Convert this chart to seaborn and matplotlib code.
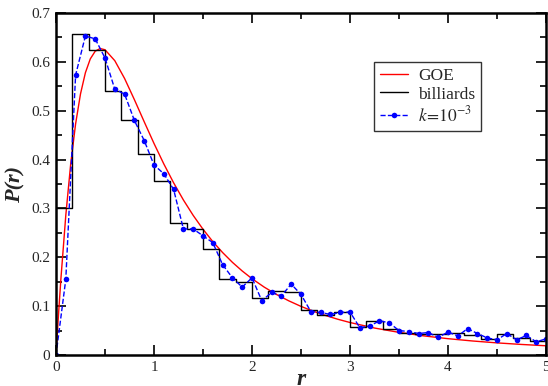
import numpy as np
import pandas as pd
import matplotlib
matplotlib.use("Agg")
import matplotlib.pyplot as plt
import seaborn as sns
from matplotlib.ticker import MultipleLocator

# GOE prediction
goe_r = [0, 0.025, 0.05, 0.1, 0.15, 0.2, 0.25, 0.3, 0.35, 0.4, 0.45, 0.5, 0.6, 0.7, 0.8,
         0.9, 1.0, 1.1, 1.2, 1.3, 1.4, 1.5, 1.6, 1.7, 1.8, 1.9, 2.0, 2.125, 2.25, 2.375,
         2.5, 2.625, 2.75, 2.875, 3.0, 3.25, 3.5, 3.75, 4.0, 4.25, 4.5, 4.75, 5.0]
goe_p = [0, 0.0812, 0.1559, 0.2860, 0.3911, 0.4731, 0.5344, 0.5778, 0.6061, 0.6218, 0.6273,
         0.6248, 0.6024, 0.5659, 0.5226, 0.4774, 0.4330, 0.3911, 0.3525, 0.3173, 0.2857,
         0.2574, 0.2321, 0.2097, 0.1897, 0.1720, 0.1562, 0.1389, 0.1239, 0.1109, 0.0995,
         0.0896, 0.0809, 0.0732, 0.0665, 0.0552, 0.0463, 0.0392, 0.0334, 0.0287, 0.0248,
         0.0216, 0.0189]

# billiards histogram, 30 bins of width 1/6 on [0, 5]
bill_p = [0.300, 0.658, 0.624, 0.541, 0.480, 0.411, 0.356, 0.271, 0.257, 0.216,
          0.156, 0.150, 0.117, 0.132, 0.128, 0.092, 0.081, 0.088, 0.057, 0.070,
          0.053, 0.046, 0.044, 0.044, 0.046, 0.040, 0.032, 0.042, 0.034, 0.028]

# k = 1e-3 data, sampled every 0.1
k_p = [0.0, 0.155, 0.573, 0.653, 0.647, 0.608, 0.544, 0.534, 0.480, 0.439,
       0.389, 0.371, 0.339, 0.258, 0.258, 0.244, 0.230, 0.185, 0.158, 0.139,
       0.158, 0.111, 0.128, 0.121, 0.145, 0.124, 0.089, 0.087, 0.083, 0.087,
       0.088, 0.056, 0.059, 0.070, 0.066, 0.050, 0.048, 0.044, 0.046, 0.036,
       0.047, 0.039, 0.054, 0.044, 0.035, 0.031, 0.044, 0.031, 0.040, 0.027,
       0.033]
k_r = np.round(np.arange(len(k_p)) * 0.1, 2)

x_ticks = [0, 1, 2, 3, 4, 5]
y_ticks = [0, 0.1, 0.2, 0.3, 0.4, 0.5, 0.6, 0.7]
y_tick_labels = ["0", "0.1", "0.2", "0.3", "0.4", "0.5", "0.6", "0.7"]

bill_edges = np.linspace(0, 5, len(bill_p) + 1)
bill_df = pd.DataFrame({"r": bill_edges, "P": bill_p + [bill_p[-1]]})

sns.set_style("ticks")
plt.rcParams["font.family"] = ["Liberation Serif", "DejaVu Serif"]
plt.rcParams["mathtext.fontset"] = "stix"

fig = plt.figure(figsize=(5.48, 3.86), dpi=100)
ax = fig.add_axes([56 / 548, 1 - 355 / 386, 490 / 548, 342 / 386])

sns.lineplot(x=goe_r, y=goe_p, ax=ax, color="#ff0000", lw=1.0, label="GOE", sort=False)
sns.lineplot(data=bill_df, x="r", y="P", ax=ax, color="black", lw=1.0,
             drawstyle="steps-post", label="billiards", sort=False)
sns.lineplot(x=k_r, y=k_p, ax=ax, color="#0000ff", lw=1.0, linestyle="--",
             marker="o", markersize=4, markeredgewidth=0,
             label=r"$k\!=\!10^{-3}$", sort=False)

ax.set_xticks(x_ticks)
ax.set_xticklabels([str(t) for t in x_ticks])
ax.set_yticks(y_ticks)
ax.set_yticklabels(y_tick_labels)
ax.xaxis.set_minor_locator(MultipleLocator(0.5))
ax.yaxis.set_minor_locator(MultipleLocator(0.05))
ax.set_xlim(0, 5)
ax.set_ylim(0, 0.7)
ax.tick_params(which="both", direction="in", top=True, right=True,
               labelsize=11, width=1.2, color="black", pad=4)
ax.tick_params(which="major", length=7)
ax.tick_params(which="minor", length=4)
for s in ax.spines.values():
    s.set_linewidth(1.8)
    s.set_color("black")

ax.set_xlabel("r", fontsize=17, fontweight="bold", fontstyle="italic", labelpad=-3)
ax.set_ylabel("P(r)", fontsize=16, fontweight="bold", fontstyle="italic", labelpad=4)

leg = ax.legend(loc="upper left", bbox_to_anchor=(0.649, 0.858), fontsize=12.5,
                frameon=True, fancybox=False, edgecolor="black", handlelength=1.6,
                handletextpad=0.6, borderpad=0.35, labelspacing=0.15,
                borderaxespad=0)
leg.get_frame().set_linewidth(1.0)

fig.savefig("out.png", dpi=100)
